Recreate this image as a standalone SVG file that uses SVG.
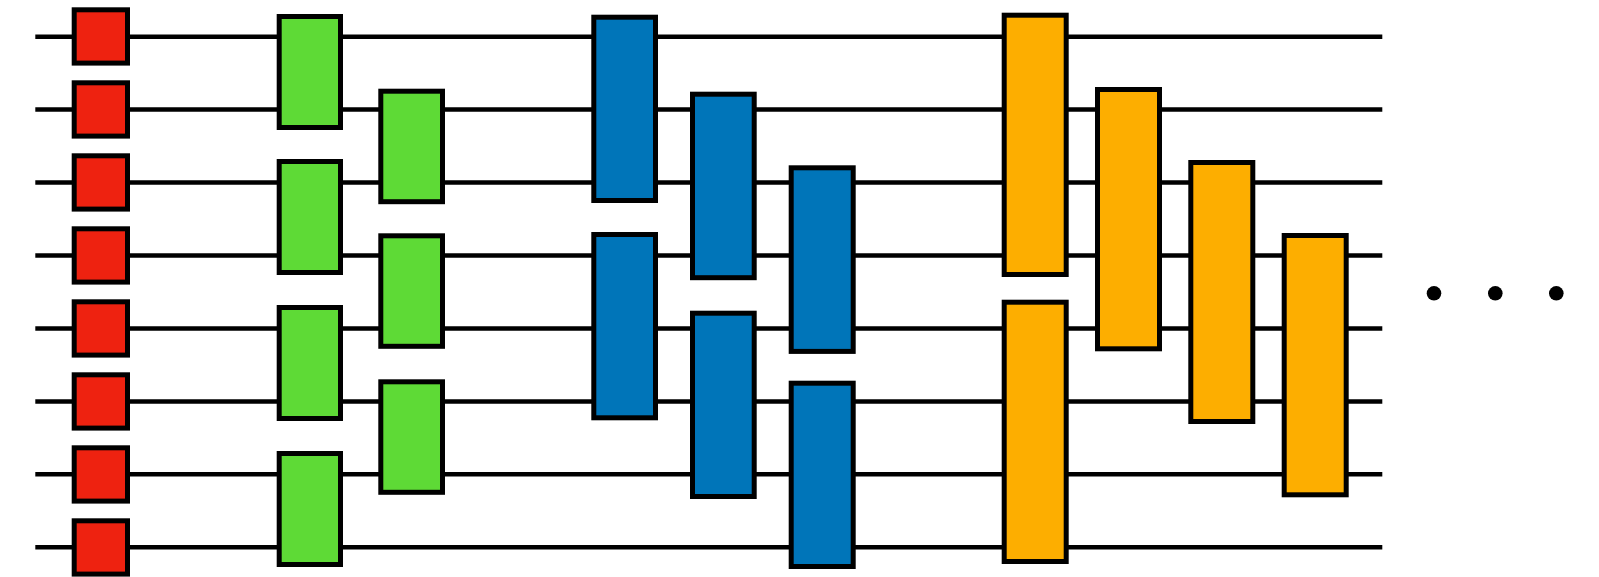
<svg xmlns="http://www.w3.org/2000/svg" width="1599" height="577" viewBox="0 0 1599 577">
  <style>
    .wire { stroke: #000; stroke-width: 4.5; fill: none; }
    .box { stroke: #000; stroke-width: 5; }
    .red { fill: #EE2210; }
    .green { fill: #5EDA36; }
    .blue { fill: #0075B9; }
    .orange { fill: #FDAE00; }
    .dot { fill: #000; }
  </style>
  <rect width="1599" height="577" fill="#fff"/>
  <g id="connectors">
    <line class="wire" x1="35.3" y1="36.7" x2="1382.3" y2="36.7"/>
    <line class="wire" x1="35.3" y1="109.6" x2="1382.3" y2="109.6"/>
    <line class="wire" x1="35.3" y1="182.6" x2="1382.3" y2="182.6"/>
    <line class="wire" x1="35.3" y1="255.5" x2="1382.3" y2="255.5"/>
    <line class="wire" x1="35.3" y1="328.5" x2="1382.3" y2="328.5"/>
    <line class="wire" x1="35.3" y1="401.4" x2="1382.3" y2="401.4"/>
    <line class="wire" x1="35.3" y1="474.3" x2="1382.3" y2="474.3"/>
    <line class="wire" x1="35.3" y1="547.3" x2="1382.3" y2="547.3"/>
  </g>
  <g id="red-1"><rect class="box red" x="74.2" y="9.8" width="53.3" height="53.3"/></g>
  <g id="red-2"><rect class="box red" x="74.2" y="82.8" width="53.3" height="53.3"/></g>
  <g id="red-3"><rect class="box red" x="74.2" y="155.8" width="53.3" height="53.3"/></g>
  <g id="red-4"><rect class="box red" x="74.2" y="228.8" width="53.3" height="53.3"/></g>
  <g id="red-5"><rect class="box red" x="74.2" y="301.8" width="53.3" height="53.3"/></g>
  <g id="red-6"><rect class="box red" x="74.2" y="374.8" width="53.3" height="53.3"/></g>
  <g id="red-7"><rect class="box red" x="74.2" y="447.8" width="53.3" height="53.3"/></g>
  <g id="red-8"><rect class="box red" x="74.2" y="520.8" width="53.3" height="53.3"/></g>

  <g id="green-1-1"><rect class="box green" x="279.2" y="16.5" width="61.3" height="111"/></g>
  <g id="green-1-2"><rect class="box green" x="279.2" y="161.5" width="61.3" height="111"/></g>
  <g id="green-1-3"><rect class="box green" x="279.2" y="307.5" width="61.3" height="111"/></g>
  <g id="green-1-4"><rect class="box green" x="279.2" y="453.5" width="61.3" height="111"/></g>
  <g id="green-2-1"><rect class="box green" x="380.8" y="91.2" width="61.7" height="110.5"/></g>
  <g id="green-2-2"><rect class="box green" x="380.8" y="235.8" width="61.7" height="110.5"/></g>
  <g id="green-2-3"><rect class="box green" x="380.8" y="381.8" width="61.7" height="110.5"/></g>

  <g id="blue-1-1"><rect class="box blue" x="593.8" y="17.2" width="61.7" height="183.3"/></g>
  <g id="blue-1-2"><rect class="box blue" x="593.8" y="234.5" width="61.7" height="183.3"/></g>
  <g id="blue-2-1"><rect class="box blue" x="692.5" y="94.2" width="61.7" height="183.5"/></g>
  <g id="blue-2-2"><rect class="box blue" x="692.5" y="313.2" width="61.7" height="183.3"/></g>
  <g id="blue-3-1"><rect class="box blue" x="791.2" y="167.8" width="62" height="183.6"/></g>
  <g id="blue-3-2"><rect class="box blue" x="791.2" y="383.2" width="62" height="183.3"/></g>

  <g id="orange-1-1"><rect class="box orange" x="1004.2" y="15.2" width="62" height="259.3"/></g>
  <g id="orange-1-2"><rect class="box orange" x="1004.2" y="302.2" width="62" height="259.3"/></g>
  <g id="orange-2"><rect class="box orange" x="1097.5" y="89.5" width="62" height="259.3"/></g>
  <g id="orange-3"><rect class="box orange" x="1190.8" y="162.5" width="62" height="259"/></g>
  <g id="orange-4"><rect class="box orange" x="1284.2" y="235.5" width="62" height="259.3"/></g>

  <g id="ellipsis">
    <circle class="dot" cx="1434" cy="293.3" r="7.3"/>
    <circle class="dot" cx="1495.3" cy="293.3" r="7.3"/>
    <circle class="dot" cx="1556.3" cy="293.3" r="7.3"/>
  </g>
</svg>
